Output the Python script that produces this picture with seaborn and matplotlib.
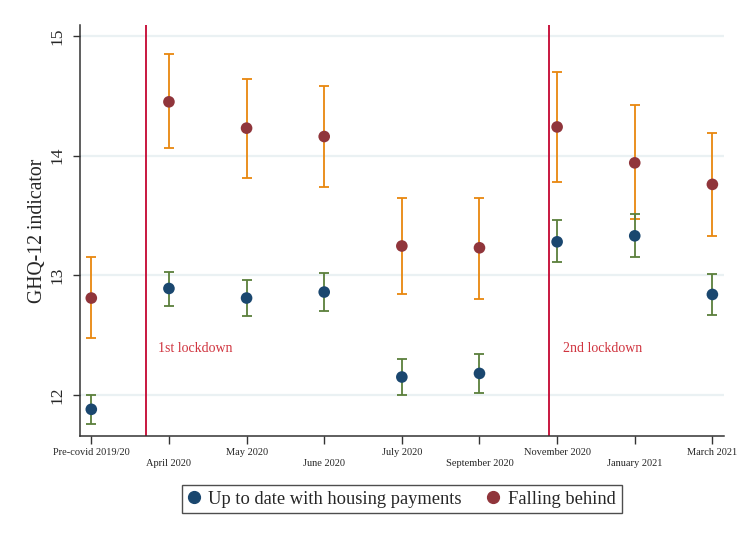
import numpy as np
import pandas as pd
import matplotlib
matplotlib.use("Agg")
import matplotlib.pyplot as plt
import seaborn as sns
from matplotlib.lines import Line2D

periods = ["Pre-covid 2019/20", "April 2020", "May 2020", "June 2020", "July 2020",
           "September 2020", "November 2020", "January 2021", "March 2021"]

uptodate_mean = [11.88, 12.89, 12.81, 12.86, 12.15, 12.18, 13.28, 13.33, 12.84]
uptodate_lo = [11.76, 12.74, 12.66, 12.70, 12.00, 12.02, 13.11, 13.15, 12.67]
uptodate_hi = [12.00, 13.03, 12.96, 13.02, 12.30, 12.34, 13.46, 13.51, 13.01]

behind_mean = [12.81, 14.45, 14.23, 14.16, 13.245, 13.23, 14.24, 13.94, 13.76]
behind_lo = [12.48, 14.06, 13.81, 13.74, 12.84, 12.80, 13.78, 13.47, 13.33]
behind_hi = [13.15, 14.85, 14.64, 14.58, 13.65, 13.65, 14.70, 14.42, 14.19]

series_names = ["Up to date with housing payments", "Falling behind"]
lockdown_pos = [0.70, 5.90]
lockdown_labels = ["1st lockdown", "2nd lockdown"]
yticks = [12, 13, 14, 15]

NAVY = "#1a476f"
MAROON = "#90353b"
GREEN = "#5b7f3b"
ORANGE = "#e8870e"
VRED = "#c8173f"
TRED = "#d0343f"

sns.set_theme(style="white")
plt.rcParams["font.family"] = ["Liberation Serif", "DejaVu Serif"]

idx = np.arange(len(periods))
df = pd.DataFrame({
    "x": np.concatenate([idx, idx]),
    "y": uptodate_mean + behind_mean,
    "lo": uptodate_lo + behind_lo,
    "hi": uptodate_hi + behind_hi,
    "group": [series_names[0]] * len(idx) + [series_names[1]] * len(idx),
})

fig = plt.figure(figsize=(7.37, 5.39), dpi=100)
ax = fig.add_axes([0.1085, 0.1911, 0.8739, 0.7625])

for t in yticks:
    ax.axhline(t, color="#eaf1f3", lw=1.6, zorder=0)

for p in lockdown_pos:
    ax.axvline(p, color=VRED, lw=1.4, zorder=1)

ecols = {series_names[0]: GREEN, series_names[1]: ORANGE}
for g, sub in df.groupby("group"):
    ax.errorbar(sub["x"], sub["y"],
                yerr=[sub["y"] - sub["lo"], sub["hi"] - sub["y"]],
                fmt="none", ecolor=ecols[g], elinewidth=1.3, capsize=3.4,
                capthick=1.3, zorder=2)

sns.scatterplot(data=df, x="x", y="y", hue="group",
                palette={series_names[0]: NAVY, series_names[1]: MAROON},
                s=70, edgecolor="none", ax=ax, zorder=3, legend=False)

ax.text(0.86, 12.39, lockdown_labels[0], color=TRED, fontsize=10, va="center", ha="left")
ax.text(6.07, 12.39, lockdown_labels[1], color=TRED, fontsize=10, va="center", ha="left")

ax.set_xlim(-0.146, 8.15)
ax.set_ylim(11.657, 15.092)

ax.set_yticks(yticks)
ax.set_yticklabels([str(t) for t in yticks], rotation=90, va="center", fontsize=12.5)
ax.tick_params(axis="y", length=5.2, width=1, color="#333333", pad=5, left=True)

major = idx[::2]
minor = idx[1::2]
ax.set_xticks(major)
ax.set_xticklabels([periods[i] for i in major], fontsize=7.5)
ax.set_xticks(minor, minor=True)
ax.set_xticklabels([periods[i] for i in minor], minor=True, fontsize=7.5)
ax.tick_params(axis="x", which="major", length=5.5, width=1, color="#333333", pad=3, bottom=True)
ax.tick_params(axis="x", which="minor", length=5.5, width=1, color="#333333", pad=10.8, bottom=True)

ax.set_xlabel("")
ax.set_ylabel("GHQ-12 indicator", fontsize=14.2, labelpad=2)

for s in ["top", "right"]:
    ax.spines[s].set_visible(False)
for s in ["left", "bottom"]:
    ax.spines[s].set_color("#333333")
    ax.spines[s].set_linewidth(1.1)

handles = [Line2D([], [], marker="o", ls="none", color=NAVY, markersize=8.5),
           Line2D([], [], marker="o", ls="none", color=MAROON, markersize=8.5)]
leg = fig.legend(handles, series_names, loc="center", bbox_to_anchor=(0.5455, 0.0742),
                 ncol=2, fontsize=13.3, frameon=True, fancybox=False,
                 handletextpad=0.5, columnspacing=1.4, borderpad=0.32, handlelength=0.6)
leg.get_frame().set_edgecolor("#222222")
leg.get_frame().set_linewidth(1.0)

fig.savefig("out.png", dpi=100, facecolor="white")
